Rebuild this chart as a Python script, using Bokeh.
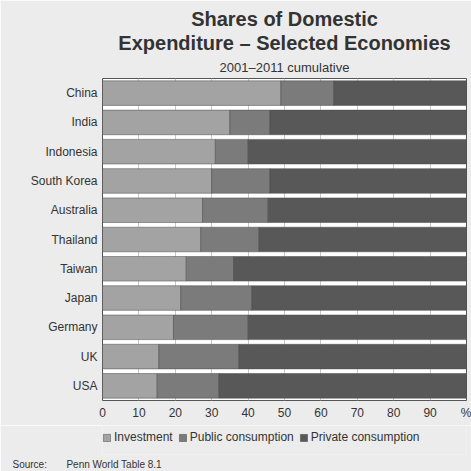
from bokeh.plotting import figure
from bokeh.layouts import column
from bokeh.models import (ColumnDataSource, Title, Legend, LegendItem, FixedTicker, Range1d)
from bokeh.embed import file_html
from bokeh.resources import INLINE

countries = ["China", "India", "Indonesia", "South Korea", "Australia", "Thailand",
             "Taiwan", "Japan", "Germany", "UK", "USA"]
investment = [49, 35, 31, 30, 27.5, 27, 23, 21.5, 19.5, 15.5, 15]
public = [14.5, 11, 9, 16, 18, 16, 13, 19.5, 20.5, 22, 17]
private = [36.5, 54, 60, 54, 54.5, 57, 64, 59, 60, 62.5, 68]
series = ["investment", "public", "private"]
series_labels = ["Investment", "Public consumption", "Private consumption"]
colors = ["#a3a3a3", "#7b7b7b", "#585858"]
x_ticks = [0, 10, 20, 30, 40, 50, 60, 70, 80, 90, 100]

src = ColumnDataSource(dict(country=countries, investment=investment,
                            public=public, private=private))

FONT = "Liberation Sans"
BG = "#ececec"
TXT = "#333333"

p = figure(width=471, height=425, y_range=list(reversed(countries)), x_range=(0, 100),
           output_backend="svg", toolbar_location=None, title=None,
           min_border_left=102, min_border_right=5, min_border_top=78,
           min_border_bottom=25)
p.border_fill_color = BG
p.background_fill_color = "white"
p.outline_line_color = "#555555"

rs = p.hbar_stack(series, y="country", height=0.84, color=colors, source=src,
                  line_color="#4a4a4a", line_width=0.5)

p.xgrid.grid_line_color = "#c8c8c8"
p.ygrid.grid_line_color = None
p.xaxis.ticker = FixedTicker(ticks=x_ticks)
p.xaxis.major_label_overrides = {100: "%"}
p.xaxis.axis_line_color = None
p.xaxis.major_tick_line_color = None
p.xaxis.minor_tick_line_color = None
p.xaxis.major_tick_out = 2
p.xaxis.major_label_text_font = FONT
p.xaxis.major_label_text_font_size = "12px"
p.xaxis.major_label_text_color = TXT
p.xaxis.major_label_standoff = 3
p.yaxis.axis_line_color = None
p.yaxis.major_tick_line_color = None
p.yaxis.major_tick_out = 0
p.yaxis.major_label_text_font = FONT
p.yaxis.major_label_text_font_size = "12px"
p.yaxis.major_label_text_color = TXT
p.yaxis.major_label_standoff = 5

p.add_layout(Title(text="2001–2011 cumulative", align="center", text_font=FONT,
                   text_font_size="13px", text_font_style="normal",
                   text_color=TXT, standoff=8), "above")
p.add_layout(Title(text="Expenditure – Selected Economies", align="center", text_font=FONT,
                   text_font_size="20px", text_font_style="bold",
                   text_color=TXT, standoff=0), "above")
p.add_layout(Title(text="Shares of Domestic", align="center", text_font=FONT,
                   text_font_size="20px", text_font_style="bold",
                   text_color=TXT, standoff=0), "above")

# legend + source strip (its frame is aligned with the main frame by the column)
p2 = figure(width=471, height=46, output_backend="svg", toolbar_location=None,
            x_axis_type=None, y_axis_type=None, x_range=Range1d(0, 1), y_range=Range1d(0, 1),
            min_border_left=102, min_border_right=5, min_border_top=0, min_border_bottom=0)
p2.border_fill_color = BG
p2.background_fill_color = BG
p2.outline_line_color = None
p2.grid.visible = False
dummies = [p2.rect(x=[-10], y=[-10], width=0.1, height=0.1, fill_color=c,
                   line_color="#4a4a4a", line_width=0.5) for c in colors]
legend = Legend(items=[LegendItem(label=l, renderers=[r]) for l, r in zip(series_labels, dummies)],
                orientation="horizontal", location=(0, 10),
                label_text_font=FONT, label_text_font_size="12px",
                label_text_color=TXT, glyph_width=9, glyph_height=9,
                spacing=5, label_standoff=3, padding=0, margin=0,
                background_fill_alpha=0, border_line_color=None)
p2.add_layout(legend)
NB = "\u00a0"
p2.add_layout(Title(text="Source:" + NB * 7 + "Penn World Table 8.1", align="left", offset=-90,
                    text_font=FONT, text_font_size="10px", text_font_style="normal",
                    text_color=TXT, standoff=4), "below")

layout = column(p, p2, spacing=0)
open("out.html", "w").write(file_html(layout, INLINE))
